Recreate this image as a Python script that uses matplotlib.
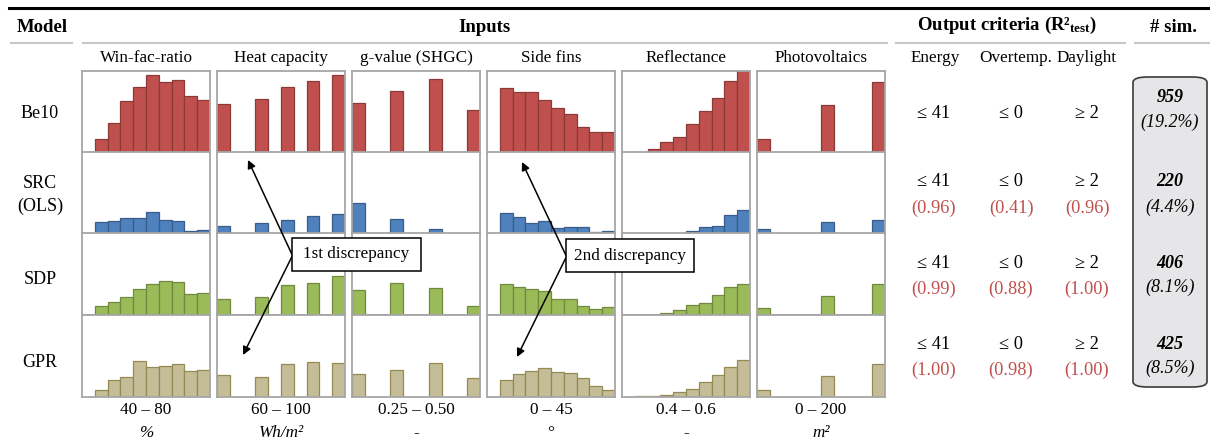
import matplotlib
matplotlib.use("Agg")
from matplotlib import pyplot as plt
from matplotlib.patches import FancyBboxPatch, Rectangle, FancyArrowPatch
from matplotlib.lines import Line2D
import numpy as np

plt.rcParams['font.family'] = ['Liberation Serif', 'DejaVu Serif']
plt.rcParams['mathtext.fontset'] = 'custom'
plt.rcParams['mathtext.rm'] = 'Liberation Serif'
plt.rcParams['mathtext.bf'] = 'Liberation Serif:bold'

# --- data (bar heights as fraction of panel height, 10 bins per input) ---
inputs = ['Win-fac-ratio', 'Heat capacity', 'g-value (SHGC)', 'Side fins', 'Reflectance', 'Photovoltaics']
ranges = ['40 – 80', '60 – 100', '0.25 – 0.50', '0 – 45', '0.4 – 0.6', '0 – 200']
units = ['%', 'Wh/m²', '-', '°', '-', 'm²']
models = ['Be10', 'SRC\n(OLS)', 'SDP', 'GPR']

be10 = [
    [0, .17, .37, .64, .81, .95, .87, .89, .69, .65],
    [.60, 0, 0, .66, 0, .81, 0, .88, 0, .95],
    [.61, 0, 0, .75, 0, 0, .90, 0, 0, .52],
    [0, .79, .74, .74, .65, .55, .47, .32, .26, .26],
    [0, .017, .054, .14, .20, .35, .51, .67, .88, 1.0],
    [.165, 0, 0, 0, 0, .58, 0, 0, 0, .87],
]
src = [
    [0, .145, .16, .20, .195, .27, .17, .155, .04, .05],
    [.10, 0, 0, .135, 0, .165, 0, .22, 0, .24],
    [.38, 0, 0, .18, 0, 0, .06, 0, 0, .017],
    [0, .26, .21, .13, .16, .07, .09, .08, .02, .04],
    [0, 0, 0, 0, .01, .04, .08, .10, .235, .29],
    [.06, 0, 0, 0, 0, .15, 0, 0, 0, .17],
]
sdp = [
    [0, .115, .16, .22, .32, .38, .42, .40, .26, .265],
    [.20, 0, 0, .22, 0, .36, 0, .39, 0, .47],
    [.31, 0, 0, .39, 0, 0, .33, 0, 0, .115],
    [0, .38, .34, .32, .29, .20, .20, .115, .075, .095],
    [0, 0, 0, .025, .06, .12, .15, .24, .34, .38],
    [.08, 0, 0, 0, 0, .235, 0, 0, 0, .375],
]
gpr = [
    [0, .086, .21, .25, .44, .36, .38, .40, .32, .33],
    [.27, 0, 0, .24, 0, .40, 0, .43, 0, .42],
    [.28, 0, 0, .33, 0, 0, .41, 0, 0, .23],
    [0, .21, .28, .32, .35, .31, .29, .23, .13, .086],
    [0, .008, .008, .03, .065, .10, .18, .265, .36, .45],
    [.08, 0, 0, 0, 0, .26, 0, 0, 0, .40],
]
hist_data = [be10, src, sdp, gpr]

criteria = ['≤ 41', '≤ 0', '≥ 2']
r2_test = [None, ['(0.96)', '(0.41)', '(0.96)'], ['(0.99)', '(0.88)', '(1.00)'], ['(1.00)', '(0.98)', '(1.00)']]
n_sim = ['959', '220', '406', '425']
pct_sim = ['(19.2%)', '(4.4%)', '(8.1%)', '(8.5%)']

faces = ['#C0504D', '#4F81BD', '#9BBB59', '#C4BD97']
edges = ['#8C3A38', '#385D8A', '#71893F', '#948A54']

W, H = 1210, 440
def fx(x): return x / W
def fy(y): return 1 - y / H

fig = plt.figure(figsize=(W / 100, H / 100), dpi=100)

# --- histogram panels ---
lefts = [82, 217, 352, 487, 622, 757]
tops = [71, 152, 233, 315]
pw, ph = 128, 82
bins = np.arange(10)
for r, top in enumerate(tops):
    for c, left in enumerate(lefts):
        ax = fig.add_axes([fx(left), fy(top + ph), pw / W, ph / H])
        h = np.array(hist_data[r][c])
        m = h > 0
        ax.bar(bins[m], h[m], width=1, align='edge', color=faces[r],
               edgecolor=edges[r], linewidth=0.9)
        ax.set_xlim(0, 10)
        ax.set_ylim(0, 1.0)
        ax.set_xticks([])
        ax.set_yticks([])
        for s in ax.spines.values():
            s.set_color('#A6A6A6')
            s.set_linewidth(1.3)

# --- header lines and titles ---
fig.add_artist(Line2D([fx(9), fx(1210)], [fy(8.5), fy(8.5)], color='black', lw=2.2))
for x0, x1 in [(11, 72), (83, 887), (896, 1125), (1135, 1210)]:
    fig.add_artist(Line2D([fx(x0), fx(x1)], [fy(43), fy(43)], color='#C8C8C8', lw=1.5))

hdr = dict(fontsize=13.5, fontweight='bold', ha='center', va='center')
fig.text(fx(42), fy(27), 'Model', **hdr)
fig.text(fx(484), fy(27), 'Inputs', **hdr)
fig.text(fx(1007), fy(25), r'Output criteria (R²$\mathbf{_{test}}$)', **hdr)
fig.text(fx(1174), fy(27), '# sim.', **hdr)

for c, left in enumerate(lefts):
    cx = left + pw / 2
    fig.text(fx(cx), fy(58), inputs[c], fontsize=12.3, ha='center', va='center')
    fig.text(fx(cx), fy(410), ranges[c], fontsize=12.3, ha='center', va='center')
    fig.text(fx(cx), fy(433), units[c], fontsize=12.3, ha='center', va='center',
             style='italic' if units[c] not in ('-', '°') else 'normal')

crit_x = [934, 1011, 1087]
for name, x in zip(['Energy', 'Overtemp.', 'Daylight'], [935, 1016, 1087]):
    fig.text(fx(x), fy(58), name, fontsize=12.3, ha='center', va='center')

# --- row labels ---
fig.text(fx(40), fy(114), 'Be10', fontsize=13, ha='center', va='center')
fig.text(fx(40), fy(195), models[1], fontsize=13, ha='center', va='center', linespacing=1.5)
fig.text(fx(40), fy(280), 'SDP', fontsize=13, ha='center', va='center')
fig.text(fx(40), fy(362), 'GPR', fontsize=13, ha='center', va='center')

# --- criteria ---
line1_y = [113, 182, 263, 344]
line2_y = [None, 208, 289, 370]
for r in range(4):
    for k, x in enumerate(crit_x):
        fig.text(fx(x), fy(line1_y[r]), criteria[k], fontsize=13.2, ha='center', va='center')
        if r2_test[r] is not None:
            fig.text(fx(x), fy(line2_y[r]), r2_test[r][k], fontsize=13.2, ha='center',
                     va='center', color='#C0504D')

# --- # sim box ---
box = FancyBboxPatch((fx(1133), fy(387)), fx(1207) - fx(1133), fy(77) - fy(387),
                     boxstyle='round,pad=0,rounding_size=0.012', transform=fig.transFigure,
                     facecolor='#E6E6E8', edgecolor='#3A3A3A', lw=1.2)
fig.add_artist(box)
sim_y1 = [97, 182, 263, 344]
sim_y2 = [122, 207, 287, 368]
for r in range(4):
    fig.text(fx(1170), fy(sim_y1[r]), n_sim[r], fontsize=13, fontweight='bold',
             style='italic', ha='center', va='center')
    fig.text(fx(1170), fy(sim_y2[r]), pct_sim[r], fontsize=13, style='italic',
             ha='center', va='center')

# --- discrepancy annotations ---
def arrow(p0, p1):
    a = FancyArrowPatch((fx(p0[0]), fy(p0[1])), (fx(p1[0]), fy(p1[1])),
                        transform=fig.transFigure, arrowstyle='-|>', mutation_scale=12,
                        color='black', lw=1.1, shrinkA=0, shrinkB=0)
    fig.add_artist(a)

for (x0, y0, x1, y1, label) in [(292, 238, 421, 271, '1st discrepancy'),
                                (566, 239, 694, 272, '2nd discrepancy')]:
    arrow((x0, (y0 + y1) / 2), (x0 - 44, 160) if x0 < 400 else (522, 162))
    arrow((x0, (y0 + y1) / 2 + 2), (243, 355) if x0 < 400 else (517, 357))
    fig.add_artist(Rectangle((fx(x0), fy(y1)), fx(x1) - fx(x0), fy(y0) - fy(y1),
                             transform=fig.transFigure, facecolor='white',
                             edgecolor='black', lw=1.1))
    fig.text(fx((x0 + x1) / 2), fy((y0 + y1) / 2), label, fontsize=12.3,
             ha='center', va='center')

fig.savefig('out.png', dpi=100)
